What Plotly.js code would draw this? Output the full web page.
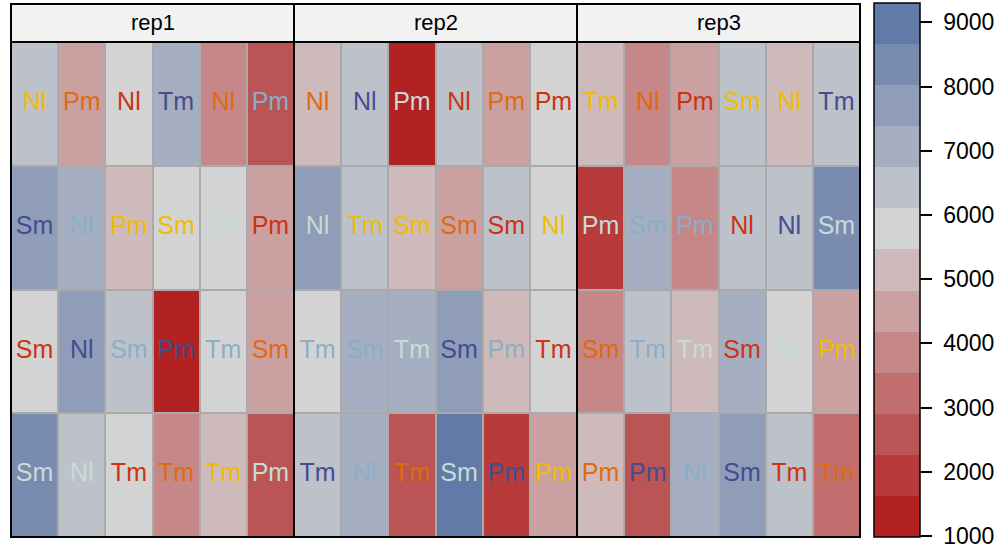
<!DOCTYPE html>
<html>
<head>
<meta charset="utf-8">
<script src="https://cdn.plot.ly/plotly-3.0.1.min.js"></script>
<style>html,body{margin:0;padding:0;background:#fff;}#chart{width:1008px;height:550px;}</style>
</head>
<body>
<div id="chart"></div>
<script>
// ---- data (row-major: row 1 at top, columns 1..6) ----
const panels = ["rep1", "rep2", "rep3"];
const columns = [1, 2, 3, 4, 5, 6];
const rows = [1, 2, 3, 4];

const labels_rep1 = [
  "Nl","Pm","Nl","Tm","Nl","Pm",
  "Sm","Nl","Pm","Sm","Tm","Pm",
  "Sm","Nl","Sm","Pm","Tm","Sm",
  "Sm","Nl","Tm","Tm","Tm","Pm"];
const values_rep1 = [
  6420,4500,5780,7060,3860,2580,
  7700,7060,5140,5780,5780,4500,
  5780,7700,6420,1300,5780,4500,
  8340,6420,5780,3860,5140,2580];
const groups_rep1 = [
  1,2,3,4,2,5,
  4,5,1,1,6,3,
  3,4,5,4,5,2,
  6,6,3,2,1,6];

const labels_rep2 = [
  "Nl","Nl","Pm","Nl","Pm","Pm",
  "Nl","Tm","Sm","Sm","Sm","Nl",
  "Tm","Sm","Tm","Sm","Pm","Tm",
  "Tm","Nl","Tm","Sm","Pm","Pm"];
const values_rep2 = [
  5140,6420,1300,6420,4500,5780,
  7700,6420,5140,4500,6420,5780,
  5780,7060,7060,7700,5140,5780,
  6420,7060,2580,8980,1940,4500];
const groups_rep2 = [
  2,4,6,3,2,3,
  6,1,1,2,3,1,
  5,5,6,4,5,3,
  4,5,2,6,4,1];

const labels_rep3 = [
  "Tm","Nl","Pm","Sm","Nl","Tm",
  "Pm","Sm","Pm","Nl","Nl","Sm",
  "Sm","Tm","Tm","Sm","Nl","Pm",
  "Pm","Pm","Nl","Sm","Tm","Tm"];
const values_rep3 = [
  5140,3860,4500,6420,5140,6420,
  1940,7060,3860,6420,6420,8340,
  3860,6420,5140,7060,5780,4500,
  5140,2580,7060,7700,6420,3220];
const groups_rep3 = [
  1,2,3,1,1,4,
  6,5,5,3,4,6,
  2,5,6,3,6,1,
  2,4,5,4,3,2];

const colorbarTicks = [1000, 2000, 3000, 4000, 5000, 6000, 7000, 8000, 9000];
const zRange = [984, 9302];

// ---- styles ----
const bandColors = [
  "rgb(178,34,34)","rgb(183,59,59)","rgb(187,85,85)","rgb(192,110,110)",
  "rgb(197,135,135)","rgb(202,160,160)","rgb(206,186,186)","rgb(211,211,211)",
  "rgb(188,193,202)","rgb(166,175,193)","rgb(143,157,185)","rgb(121,140,176)",
  "rgb(98,122,168)"];
const textPalette = {1:"#F0BC00", 2:"#E06A10", 3:"#CC3311", 4:"#444C90", 5:"#8AAEC8", 6:"#C6DCD6"};

const colorscale = [];
bandColors.forEach((c, i) => {
  colorscale.push([i / bandColors.length, c]);
  colorscale.push([(i + 1) / bandColors.length, c]);
});

const panelData = [
  {labels: labels_rep1, values: values_rep1, groups: groups_rep1},
  {labels: labels_rep2, values: values_rep2, groups: groups_rep2},
  {labels: labels_rep3, values: values_rep3, groups: groups_rep3}];

const FONT = "Liberation Sans, Arial, Helvetica, sans-serif";
const traces = [];
const shapes = [];
const annotations = [];
const layout = {
  width: 1008, height: 550,
  margin: {l: 11, r: 148, t: 42, b: 13, pad: 0},
  paper_bgcolor: "#ffffff",
  plot_bgcolor: "#AAAAAA",
  showlegend: false,
  font: {family: FONT, color: "#000"},
  hovermode: false
};

panelData.forEach((p, pi) => {
  const xa = pi === 0 ? "x" : "x" + (pi + 1);
  const xaKey = pi === 0 ? "xaxis" : "xaxis" + (pi + 1);
  const z = rows.map((r, ri) => columns.map((c, ci) => p.values[ri * columns.length + ci]));
  traces.push({
    type: "heatmap", x: columns, y: rows, z: z,
    xaxis: xa, yaxis: "y",
    colorscale: colorscale, zmin: zRange[0], zmax: zRange[1],
    xgap: 2, ygap: 2,
    showscale: pi === 0,
    colorbar: {
      x: 1.0165, xanchor: "left", xref: "paper",
      y: 0, yanchor: "bottom", yref: "paper",
      lenmode: "pixels", len: 534,
      thicknessmode: "pixels", thickness: 46,
      xpad: 0, ypad: 0,
      outlinecolor: "#000", outlinewidth: 1.5,
      ticks: "outside", ticklen: 12, tickwidth: 2, tickcolor: "#000",
      tickvals: colorbarTicks, ticktext: colorbarTicks.map(v => "\u00a0" + String(v)),
      tickfont: {size: 23, family: FONT, color: "#000"}
    },
    hoverinfo: "skip"
  });
  const tx = [], ty = [], tt = [], tc = [];
  rows.forEach((r, ri) => columns.forEach((c, ci) => {
    const k = ri * columns.length + ci;
    tx.push(c); ty.push(r); tt.push(p.labels[k]); tc.push(textPalette[p.groups[k]]);
  }));
  traces.push({
    type: "scatter", mode: "text", x: tx, y: ty, text: tt,
    xaxis: xa, yaxis: "y",
    textposition: "middle center",
    textfont: {size: 25, family: FONT, color: tc},
    hoverinfo: "skip", cliponaxis: false
  });
  layout[xaKey] = {
    domain: [pi / 3, (pi + 1) / 3],
    range: [0.5, 6.5], anchor: "y",
    showgrid: false, zeroline: false, showticklabels: false, ticks: "", showline: false, fixedrange: true
  };
  const xd = pi === 0 ? "x domain" : "x" + (pi + 1) + " domain";
  shapes.push({type: "rect", xref: xd, yref: "paper", x0: 0, x1: 1, y0: 0, y1: 1,
    line: {color: "#000", width: 2}, fillcolor: "rgba(0,0,0,0)", layer: "above"});
  shapes.push({type: "rect", xref: xd, yref: "paper", x0: 0, x1: 1, y0: 1, y1: 1 + 38 / 495,
    line: {color: "#000", width: 2}, fillcolor: "#F2F2F2", layer: "above"});
  annotations.push({xref: xd, yref: "paper", x: 0.5, y: 1 + 19 / 495, text: panels[pi],
    showarrow: false, xanchor: "center", yanchor: "middle",
    font: {size: 22, family: FONT, color: "#000"}});
});

layout.yaxis = {domain: [0, 1], range: [4.5, 0.5], anchor: "x",
  showgrid: false, zeroline: false, showticklabels: false, ticks: "", showline: false, fixedrange: true};
layout.shapes = shapes;
layout.annotations = annotations;

Plotly.newPlot("chart", traces, layout, {displayModeBar: false, staticPlot: true});
</script>
</body>
</html>
